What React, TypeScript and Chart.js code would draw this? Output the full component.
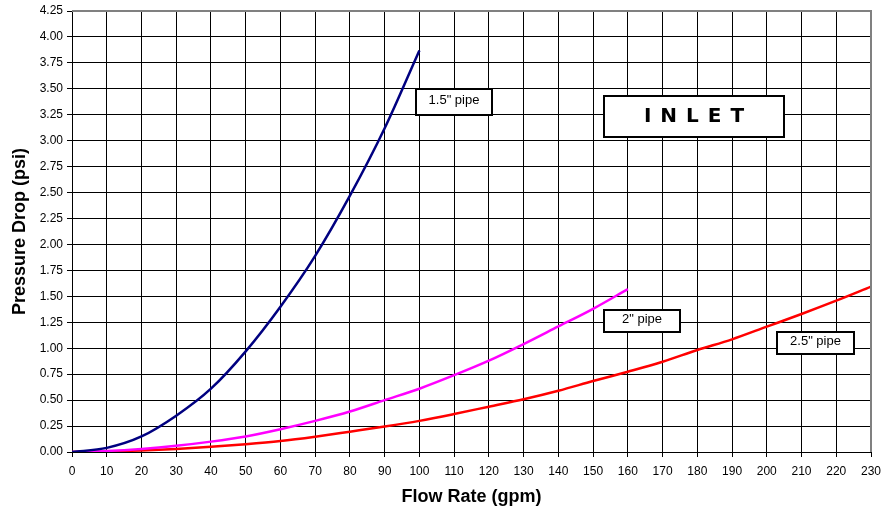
import React, { useEffect, useRef } from "react";
import { Chart, registerables } from "chart.js";

Chart.register(...registerables);

// ---- Data ----
const flow15 = [0, 10, 20, 30, 40, 50, 60, 70, 80, 90, 100];
const drop15 = [0, 0.04, 0.15, 0.35, 0.61, 0.97, 1.4, 1.89, 2.47, 3.12, 3.87];

const flow2 = [0, 10, 20, 30, 40, 50, 60, 70, 80, 90, 100, 110, 120, 130, 140, 150, 160];
const drop2 = [0, 0.01, 0.03, 0.06, 0.1, 0.15, 0.22, 0.3, 0.39, 0.5, 0.61, 0.74, 0.88, 1.04, 1.21, 1.38, 1.57];

const flow25 = [0, 10, 20, 30, 40, 50, 60, 70, 80, 90, 100, 110, 120, 130, 140, 150, 160, 170, 180, 190, 200, 210, 220, 230];
const drop25 = [0, 0.005, 0.015, 0.03, 0.05, 0.075, 0.106, 0.148, 0.196, 0.245, 0.3, 0.366, 0.437, 0.508, 0.59, 0.684, 0.774, 0.87, 0.983, 1.086, 1.208, 1.33, 1.458, 1.593];

const seriesNames = ['1.5" pipe', '2" pipe', '2.5" pipe'];
const seriesColors = ["#000080", "#FF00FF", "#FF0000"];

const xMin = 0;
const xMax = 230;
const xStep = 10;
const yMin = 0;
const yMax = 4.25;
const yStep = 0.25;

const xTitle = "Flow Rate (gpm)";
const yTitle = "Pressure Drop (psi)";
const badgeText = "INLET";

// label boxes in data units: [x0, x1, yTop, yBottom]
const labelBoxes = [
  { text: seriesNames[0], x0: 99, x1: 121, y0: 3.5, y1: 3.25 },
  { text: seriesNames[1], x0: 153, x1: 175, y0: 1.37, y1: 1.16 },
  { text: seriesNames[2], x0: 203, x1: 225, y0: 1.16, y1: 0.94 },
];
const badgeBox = { x0: 153, x1: 205, y0: 3.43, y1: 3.04 };

const toPoints = (xs: number[], ys: number[]) => xs.map((x, i) => ({ x, y: ys[i] }));

const overlayPlugin = {
  id: "overlay",
  afterDatasetsDraw(chart: any) {
    const { ctx, chartArea, scales } = chart;
    const xs = scales.x;
    const ys = scales.y;
    ctx.save();
    // gray top and right frame
    ctx.strokeStyle = "#808080";
    ctx.lineWidth = 2;
    ctx.beginPath();
    ctx.moveTo(chartArea.left, chartArea.top);
    ctx.lineTo(chartArea.right, chartArea.top);
    ctx.lineTo(chartArea.right, chartArea.bottom);
    ctx.stroke();

    const drawBox = (x0: number, x1: number, y0: number, y1: number) => {
      const l = Math.round(xs.getPixelForValue(x0));
      const r = Math.round(xs.getPixelForValue(x1));
      const t = Math.round(ys.getPixelForValue(y0));
      const b = Math.round(ys.getPixelForValue(y1));
      ctx.fillStyle = "#ffffff";
      ctx.fillRect(l, t, r - l, b - t);
      ctx.strokeStyle = "#000000";
      ctx.lineWidth = 2;
      ctx.strokeRect(l, t, r - l, b - t);
      return { l, r, t, b };
    };

    labelBoxes.forEach((lb) => {
      const { l, r, t, b } = drawBox(lb.x0, lb.x1, lb.y0, lb.y1);
      ctx.fillStyle = "#000";
      ctx.font = "13px 'Liberation Sans', Arial, sans-serif";
      ctx.textAlign = "center";
      ctx.textBaseline = "middle";
      ctx.fillText(lb.text, (l + r) / 2, (t + b) / 2 - 2);
    });

    const bb = drawBox(badgeBox.x0, badgeBox.x1, badgeBox.y0, badgeBox.y1);
    ctx.fillStyle = "#000";
    ctx.font = "900 20px 'DejaVu Sans', 'Liberation Sans', sans-serif";
    ctx.textBaseline = "middle";
    ctx.textAlign = "left";
    const spacing = 9;
    const letters = badgeText.split("");
    const widths = letters.map((c) => ctx.measureText(c).width);
    const total = widths.reduce((a, w) => a + w, 0) + spacing * (letters.length - 1);
    let cx = (bb.l + bb.r) / 2 - total / 2;
    const cy = (bb.t + bb.b) / 2;
    letters.forEach((c, i) => {
      ctx.fillText(c, cx, cy);
      cx += widths[i] + spacing;
    });
    ctx.restore();
  },
};

export default function App() {
  const canvasRef = useRef<HTMLCanvasElement | null>(null);

  useEffect(() => {
    const canvas = canvasRef.current;
    if (!canvas) return;
    const tickFont = { family: "'Liberation Sans', Arial, sans-serif", size: 12 };
    const titleFont = { family: "'Liberation Sans', Arial, sans-serif", size: 18, weight: "bold" as const };
    const chart = new Chart(canvas, {
      type: "line",
      data: {
        datasets: [
          { label: seriesNames[0], data: toPoints(flow15, drop15), borderColor: seriesColors[0] },
          { label: seriesNames[1], data: toPoints(flow2, drop2), borderColor: seriesColors[1] },
          { label: seriesNames[2], data: toPoints(flow25, drop25), borderColor: seriesColors[2] },
        ].map((d) => ({
          ...d,
          borderWidth: 2.5,
          pointRadius: 0,
          fill: false,
          cubicInterpolationMode: "monotone" as const,
        })),
      },
      plugins: [overlayPlugin],
      options: {
        animation: false,
        responsive: false,
        devicePixelRatio: 1,
        layout: { padding: { top: 11, right: 13, left: 0, bottom: 0 } },
        plugins: { legend: { display: false }, tooltip: { enabled: false } },
        scales: {
          x: {
            type: "linear",
            min: xMin,
            max: xMax,
            ticks: {
              stepSize: xStep,
              color: "#000",
              font: tickFont,
              padding: 7,
              maxRotation: 0,
              autoSkip: false,
            },
            grid: { color: "#000", lineWidth: 1, tickLength: 5 },
            border: { color: "#000", width: 1 },
            title: { display: true, text: xTitle, color: "#000", font: titleFont, padding: { top: 0, bottom: 5 } },
            afterFit: (s: any) => {
              s.height = 61;
              s.paddingLeft = 0;
              s.paddingRight = 0;
            },
          },
          y: {
            type: "linear",
            min: yMin,
            max: yMax,
            ticks: {
              stepSize: yStep,
              color: "#000",
              font: tickFont,
              padding: 4,
              callback: (v: any) => Number(v).toFixed(2),
            },
            grid: { color: "#000", lineWidth: 1, tickLength: 5 },
            border: { color: "#000", width: 1 },
            title: { display: true, text: yTitle, color: "#000", font: titleFont, padding: { top: 9, bottom: 0 } },
            afterFit: (s: any) => {
              s.width = 72;
              s.paddingTop = 0;
              s.paddingBottom = 0;
            },
          },
        },
      },
    });
    return () => chart.destroy();
  }, []);

  return (
    <div style={{ position: "absolute", left: 0, top: 0, width: 884, height: 513, background: "#fff" }}>
      <canvas ref={canvasRef} width={884} height={513} style={{ display: "block" }} />
    </div>
  );
}
